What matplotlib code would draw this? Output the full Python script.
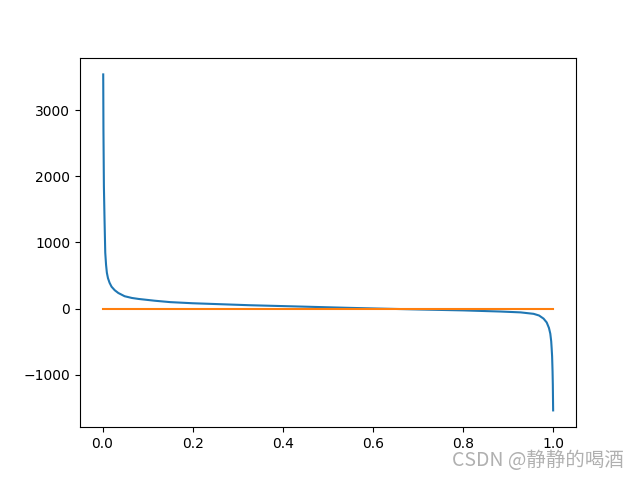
import matplotlib
matplotlib.use('Agg')
import matplotlib.pyplot as plt

# values
xs = [0.0015, 0.002, 0.003, 0.0044, 0.006, 0.0078, 0.0096, 0.012, 0.0156, 0.02,
      0.027, 0.035, 0.049, 0.065, 0.08, 0.116, 0.15, 0.2, 0.327, 0.45, 0.549,
      0.61, 0.7, 0.8, 0.882, 0.927, 0.956, 0.968, 0.978, 0.985, 0.99, 0.993,
      0.995, 0.996, 0.997, 0.998, 0.9986, 0.9993]
ys = [3540, 2700, 1850, 1348, 844, 660, 541, 460, 389, 330,
      277, 235, 186, 160, 145, 118, 97, 80, 50, 28, 10,
      0, -14, -28, -45, -58, -80, -105, -152, -210, -293, -380,
      -495, -600, -720, -950, -1150, -1540]

line_x = [0, 1]
line_y = [0, 0]

fig = plt.figure(figsize=(6.4, 4.8), dpi=100)
plt.plot(xs, ys)
plt.plot(line_x, line_y)

fig.text(0.707, 0.04, 'CSDN @静静的喝酒', fontsize=14, color='#b0b0b0',
         family=['Noto Sans CJK SC', 'DejaVu Sans'], va='center')

plt.savefig('out.png')
